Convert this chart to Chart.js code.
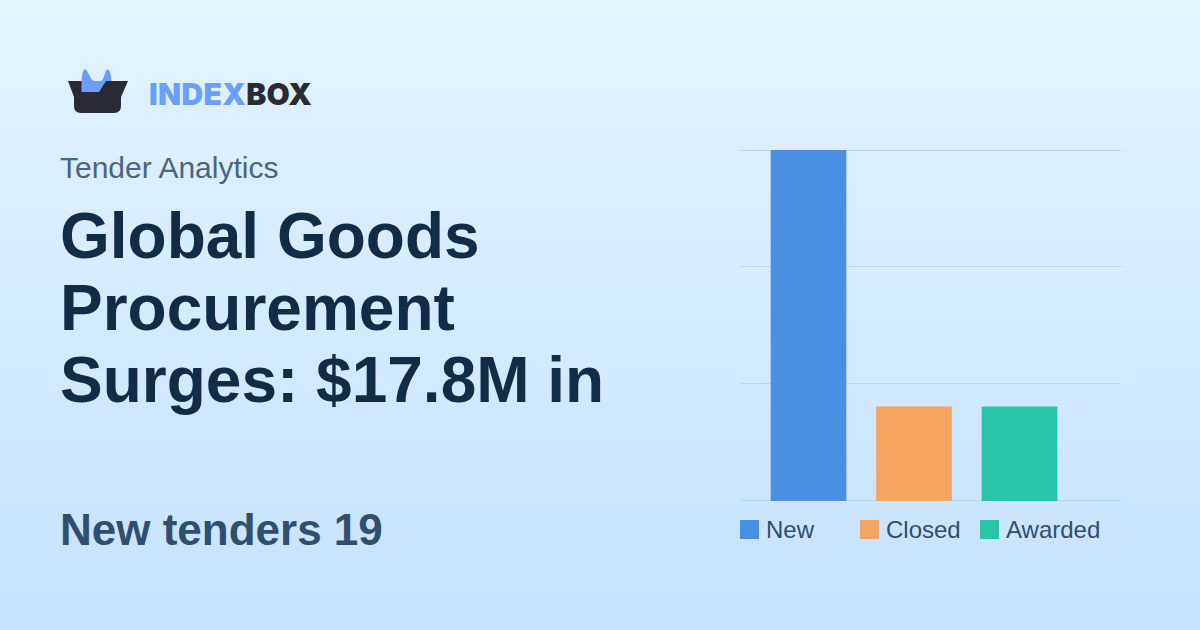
<!DOCTYPE html>
<html>
<head>
<meta charset="utf-8">
<script src="https://cdn.jsdelivr.net/npm/chart.js@4"></script>
<style>
html, body { margin: 0; padding: 0; }
body { width: 1200px; height: 630px; overflow: hidden; position: relative; font-family: "Liberation Sans", sans-serif;
    background: linear-gradient(180deg, #e3f3ff 0%, #c6e2ff 100%); }
.logo { position: absolute; left: 64px; top: 64px; }
.brand { position: absolute; left: 149px; top: 75px; font: 900 30px/38px Inter, sans-serif; letter-spacing: 0.35px; color: #2a2a35; }
.brand span { color: #6b9fff; }
.sub { position: absolute; left: 60px; top: 150px; font-size: 30px; line-height: 36px; color: #4a6580; }
.title { position: absolute; left: 60px; top: 200px; font-size: 64px; line-height: 72px; font-weight: bold; color: #102c47; white-space: nowrap; }
.stat { position: absolute; left: 60px; top: 504px; font-size: 44px; line-height: 52px; font-weight: bold; color: #2f4f6f; }
.chart { position: absolute; left: 740px; top: 140px; width: 381px; height: 370px; }
.legend-item { position: absolute; top: 516px; height: 28px; font-size: 24px; line-height: 28px; color: #2f4f6f; white-space: nowrap; }
.legend-item i { position: absolute; left: 0; top: 4px; width: 19px; height: 19px; }
.legend-item b { position: absolute; left: 26px; top: 0; font-weight: normal; }
</style>
</head>
<body>
<svg class="logo" width="70" height="54" viewBox="0 0 70 54">
    <path d="M17.5 28 L17.5 17 Q18 9 20 5.5 Q21.5 4.5 23 7 L27.5 15 Q28.5 17 31 17 L36 17 Q38 17 39 15 L41.5 8 Q43 4.5 45 6 Q47 9 47.5 17 Z" fill="#6b9fff"/>
    <path d="M4 17 L64 17 L57 33 L57 42 Q57 49 50 49 L17 49 Q10 49 10 42 L10 33 Z" fill="#2a2a35"/>
    <path d="M17.5 17 L42 17 L35 28 L17.5 28 Z" fill="#6b9fff"/>
</svg>
<div class="brand"><span>INDEX</span>BOX</div>
<div class="sub">Tender Analytics</div>
<div class="title">Global Goods<br>Procurement<br>Surges: $17.8M in</div>
<div class="stat">New tenders 19</div>
<div class="chart"><canvas id="bars" width="381" height="370"></canvas></div>
<div id="legend"></div>
<script>
const categories = ["New", "Closed", "Awarded"];
const tenderCounts = [19, 5.1, 5.1];
const gridValues = [0.04, 6.38, 12.72, 19];
const barColors = ["#4a90e2", "#f5a462", "#2ac4a8"];
const legendLefts = [740, 860, 980];

let legend = document.getElementById("legend");
categories.forEach(function (name, i) {
    let item = document.createElement("div");
    item.className = "legend-item";
    item.style.left = legendLefts[i] + "px";
    item.innerHTML = '<i style="background:' + barColors[i] + '"></i><b>' + name + "</b>";
    legend.appendChild(item);
});

new Chart(document.getElementById("bars"), {
    type: "bar",
    data: {
        datasets: [{
            data: tenderCounts.map(function (v, i) { return { x: i, y: v }; }),
            backgroundColor: barColors,
            borderWidth: 0,
            barThickness: 75
        }]
    },
    options: {
        responsive: false,
        animation: false,
        layout: { padding: { top: 10, bottom: 9, left: 0, right: 0 } },
        plugins: { legend: { display: false }, tooltip: { enabled: false } },
        scales: {
            x: {
                type: "linear",
                offset: false,
                min: -0.64929,
                max: 2.96209,
                grid: { display: false, drawTicks: false },
                border: { display: false },
                ticks: { display: false }
            },
            y: {
                min: 0,
                max: 19,
                afterBuildTicks: function (axis) {
                    axis.ticks = gridValues.map(function (v) { return { value: v }; });
                },
                grid: { color: "#bcd6ec", lineWidth: 1, drawTicks: false },
                border: { display: false },
                ticks: { display: false }
            }
        }
    }
});
</script>
</body>
</html>
